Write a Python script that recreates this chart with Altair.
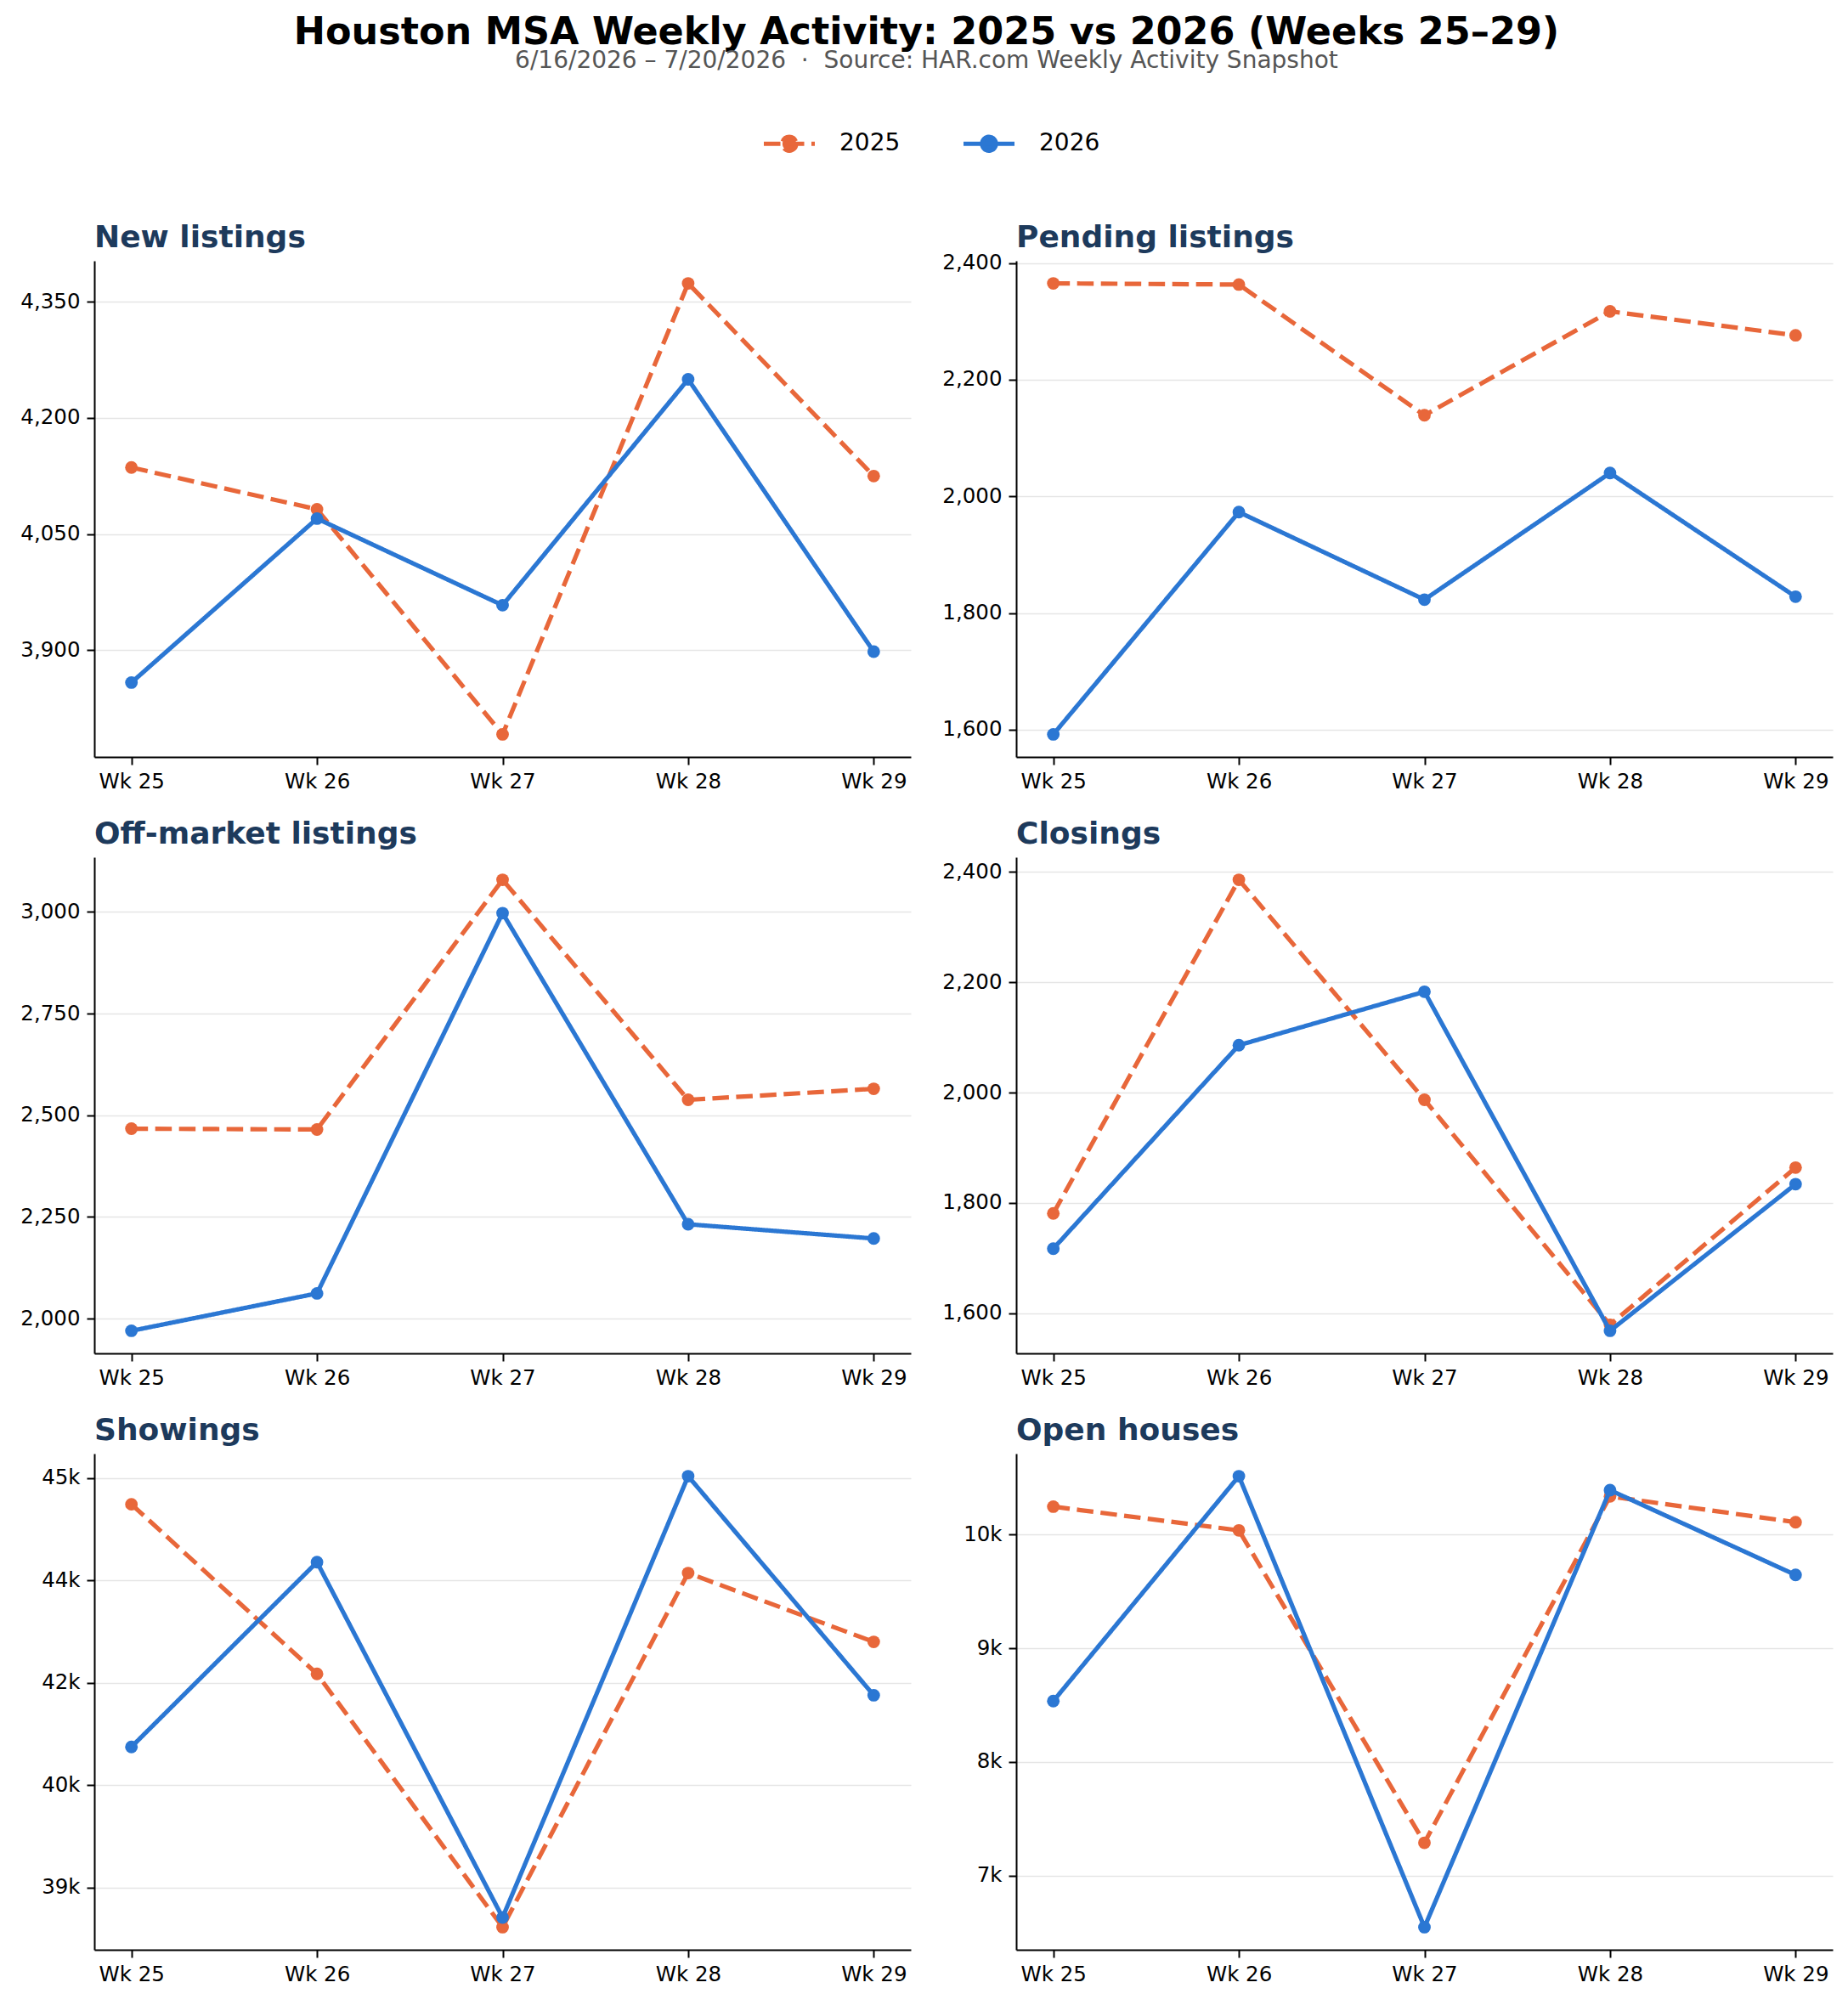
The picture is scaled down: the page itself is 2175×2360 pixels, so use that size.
import altair as alt
import pandas as pd

weeks = ["Wk 25", "Wk 26", "Wk 27", "Wk 28", "Wk 29"]
years = ["2025", "2026"]
colors = ["#E8673A", "#2B77D3"]

new_2025 = [4136, 4082, 3791, 4374, 4125]
new_2026 = [3858, 4070, 3958, 4250, 3898]
pending_2025 = [2365, 2363, 2139, 2317, 2276]
pending_2026 = [1592, 1973, 1823, 2040, 1828]
offm_2025 = [2467, 2465, 3079, 2538, 2565]
offm_2026 = [1970, 2062, 2997, 2232, 2197]
clos_2025 = [1781, 2386, 1987, 1579, 1864]
clos_2026 = [1717, 2086, 2183, 1568, 1834]
show_2025 = [44617, 42131, 38417, 43609, 42600]
show_2026 = [41060, 43769, 38560, 45029, 41817]
open_2025 = [10247, 10038, 7289, 10337, 10110]
open_2026 = [8536, 10515, 6546, 10392, 9646]

new_ticks = [3900, 4050, 4200, 4350]
new_labels = ["3,900", "4,050", "4,200", "4,350"]
pending_ticks = [1600, 1800, 2000, 2200, 2400]
pending_labels = ["1,600", "1,800", "2,000", "2,200", "2,400"]
offm_ticks = [2000, 2250, 2500, 2750, 3000]
offm_labels = ["2,000", "2,250", "2,500", "2,750", "3,000"]
clos_ticks = [1600, 1800, 2000, 2200, 2400]
clos_labels = ["1,600", "1,800", "2,000", "2,200", "2,400"]
show_ticks = [39000, 40500, 42000, 43500, 45000]
show_labels = ["39k", "40k", "42k", "44k", "45k"]
open_ticks = [7000, 8000, 9000, 10000]
open_labels = ["7k", "8k", "9k", "10k"]

TITLE_COLOR = "#1D3A5C"
PW, PH = 961, 584
LW = 5.2
DASH = [19.5, 8.5]

legend_path = ("M -1 0 L 1 0 M 0.27 0 A 0.27 0.27 0 1 1 -0.27 0 "
               "A 0.27 0.27 0 1 1 0.27 0 Z")
leg = alt.Legend(
    title=None, orient="none", direction="horizontal",
    legendX=785, legendY=-171,
    symbolType=legend_path, symbolSize=3600, symbolStrokeWidth=LW,
    labelFontSize=28, labelOffset=26, columnPadding=63,
    labelColor="black",
)


def label_expr(ticks, labels):
    expr = "''"
    for t, l in reversed(list(zip(ticks, labels))):
        expr = f"datum.value == {t} ? '{l}' : ({expr})"
    return expr


def panel(title, v25, v26, ticks, labels):
    df = pd.DataFrame({
        "week": weeks * 2,
        "year": [years[0]] * len(weeks) + [years[1]] * len(weeks),
        "value": v25 + v26,
    })
    allv = v25 + v26
    lo, hi = min(allv), max(allv)
    pad = 0.05 * (hi - lo)
    d0, d1 = lo - pad, hi + pad
    # keep the panel title at a fixed distance above the plot even when the
    # top tick label sticks out above the plot area
    dist = (d1 - max(ticks)) / (d1 - d0) * PH
    toff = 8 - max(0.0, 12.5 - dist)
    x = alt.X("week:O", sort=weeks,
              scale=alt.Scale(type="point", padding=0.2),
              axis=alt.Axis(title=None, labelAngle=0, grid=False))
    y = alt.Y("value:Q",
              scale=alt.Scale(domain=[d0, d1], nice=False, zero=False),
              axis=alt.Axis(title=None, values=ticks,
                            labelExpr=label_expr(ticks, labels), grid=True))
    color = alt.Color("year:N", scale=alt.Scale(domain=years, range=colors), legend=leg)
    dash = alt.StrokeDash("year:N",
                          scale=alt.Scale(domain=years, range=[DASH, [1, 0]]),
                          legend=leg)
    base = alt.Chart(df)
    layers = []
    for yr in years:
        b = base.transform_filter(alt.datum.year == yr)
        layers.append(b.mark_line(strokeWidth=LW, strokeCap="butt").encode(
            x=x, y=y, color=color, strokeDash=dash))
        layers.append(b.mark_point(filled=True, size=220, opacity=1).encode(
            x=x, y=y, color=color))
    return alt.layer(*layers).properties(
        width=PW, height=PH,
        title=alt.TitleParams(title, anchor="start", frame="group", fontSize=36,
                              fontWeight="bold", color=TITLE_COLOR, offset=toff),
    )


panels = [
    panel("New listings", new_2025, new_2026, new_ticks, new_labels),
    panel("Pending listings", pending_2025, pending_2026, pending_ticks, pending_labels),
    panel("Off-market listings", offm_2025, offm_2026, offm_ticks, offm_labels),
    panel("Closings", clos_2025, clos_2026, clos_ticks, clos_labels),
    panel("Showings", show_2025, show_2026, show_ticks, show_labels),
    panel("Open houses", open_2025, open_2026, open_ticks, open_labels),
]

chart = alt.concat(*panels, columns=2, spacing={"row": 118, "column": 124},
                   bounds="flush").properties(
    title=alt.TitleParams(
        "Houston MSA Weekly Activity: 2025 vs 2026 (Weeks 25\u201329)",
        subtitle="6/16/2026 \u2013 7/20/2026 \u00a0\u00b7\u00a0 Source: HAR.com Weekly Activity Snapshot",
        anchor="middle", fontSize=44.5, fontWeight="bold", color="black",
        subtitleFontSize=28, subtitleColor="#555555", subtitlePadding=-4,
        offset=49.5,
    ),
    padding={"left": 15, "top": 8, "right": 10, "bottom": 10},
).configure(font="DejaVu Sans").configure_view(stroke=None).configure_axis(
    labelFontSize=24.5, labelColor="black", domainColor="black", domainWidth=2,
    tickColor="black", tickWidth=2, tickSize=9, labelPadding=8,
    gridColor="#E5E5E5", gridWidth=1.5, labelFont="DejaVu Sans",
).configure_legend(labelFont="DejaVu Sans")

chart.save("out.html", embed_options={"renderer": "svg", "actions": False})
